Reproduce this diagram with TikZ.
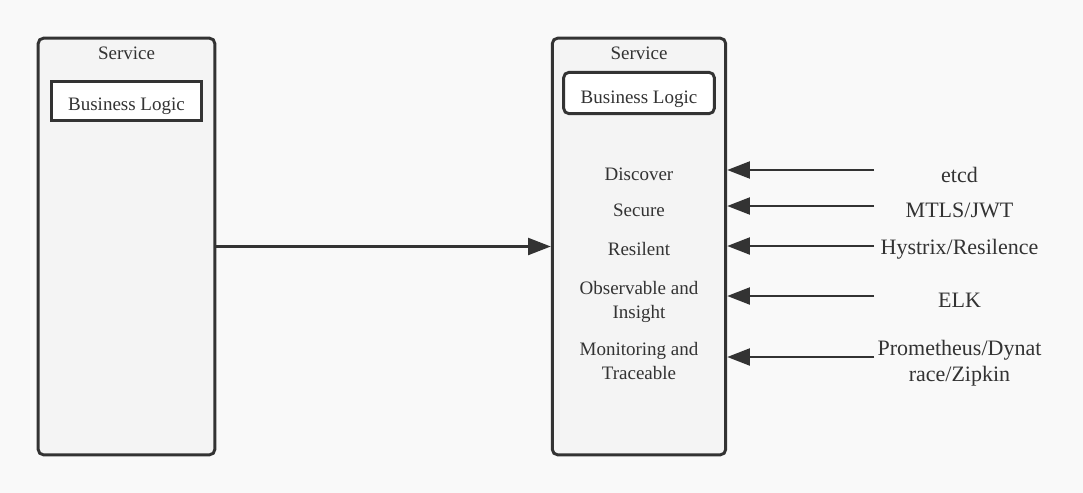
\documentclass[tikz,border=0pt]{standalone}
\usepackage{fontspec}
\setmainfont{LiberationSerif}[Extension=.ttf, UprightFont=*-Regular,
  BoldFont=*-Bold, ItalicFont=*-Italic, BoldItalicFont=*-BoldItalic]
\usetikzlibrary{arrows.meta}
\definecolor{bg}{HTML}{F9F9F9}
\definecolor{boxbg}{HTML}{F4F4F4}
\definecolor{ink}{HTML}{333333}
\tikzset{
  svc/.style={draw=ink, fill=boxbg, line width=2.2pt, rounded corners=4pt,
    minimum width=132.5pt, minimum height=312.5pt, inner sep=0pt},
  logic/.style={draw=ink, fill=white, line width=2.2pt, minimum width=112.5pt,
    minimum height=29pt, inner sep=0pt, text=ink, text height=13.5pt, text depth=0pt,
    font=\fontsize{14.25pt}{18pt}\selectfont},
  lbl/.style={text=ink, inner sep=1pt, align=center,
    font=\fontsize{14.25pt}{18pt}\selectfont},
  src/.style={text=ink, inner sep=1pt, align=center,
    font=\fontsize{16.5pt}{19.5pt}\selectfont},
  arr/.style={draw=ink, line width=2.2pt, -{Triangle[length=17pt, width=12.5pt]}}
}
\begin{document}
\begin{tikzpicture}[x=0.75pt, y=-0.75pt]
  \fill[bg] (0,0) rectangle (1083,493);
  \useasboundingbox (0,0) rectangle (1083,493);

  % the two services
  \node[svc] (svcA) at (126.5,246.5) {};
  \node[svc, minimum width=130pt] (svcB) at (639,246.5) {};
  \node[lbl] (nameA) at (126.5,53) {Service};
  \node[lbl] (nameB) at (639,53) {Service};
  \node[logic] (logicA) at (126.5,101) {Business Logic};
  \node[logic, rounded corners=4pt, minimum width=113pt, minimum height=31pt,
    text height=15pt] (logicB) at (639,93) {Business Logic};

  \draw[arr] (svcA) -- (svcB);

  % concerns inside the sidecar side
  \foreach \n/\y/\t in {1/174/Discover, 2/210/Secure, 3/249/Resilent,
      4/302/{Observable and\\Insight}, 5/361/{Monitoring and\\Traceable}}{
    \node[lbl] (cap\n) at (639,\y) {\t};
  }

  % tools feeding in
  \foreach \n/\y/\a/\t in {1/175/170/etcd, 2/210/206/{MTLS/JWT},
      3/249/246/{Hystrix/Resilence}, 4/300/296/ELK,
      5/363.5/357/{Prometheus/Dynat\\race/Zipkin}}{
    \node[src] (tool\n) at (959.5,\y) {\t};
    \coordinate (from\n) at (874,\a);
    \draw[arr] (from\n) -- (from\n -| svcB.east);
  }
\end{tikzpicture}
\end{document}
